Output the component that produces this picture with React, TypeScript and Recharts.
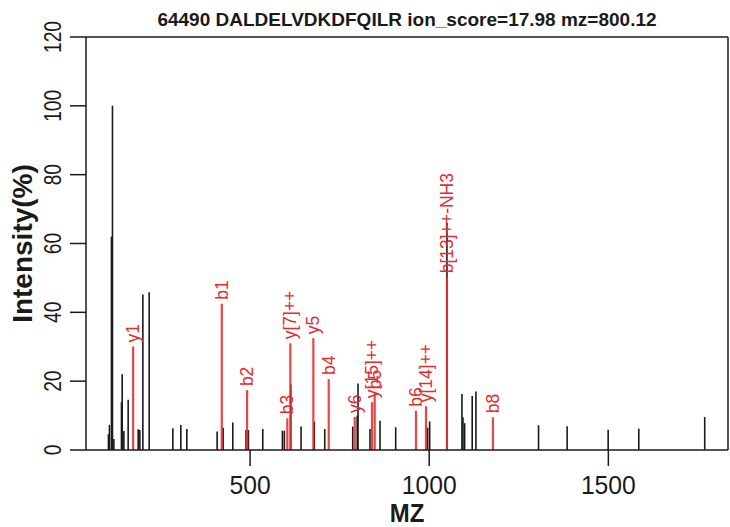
import { ComposedChart, XAxis, YAxis, Scatter, ReferenceLine } from 'recharts'

const title = '64490 DALDELVDKDFQILR ion_score=17.98 mz=800.12'

// unmatched peaks (black)
const peakMz = [
	104.7, 107.5, 113.1, 115.9, 119.8, 141, 143, 147.7, 159.7, 187.6, 192.3, 200.7, 218.3, 284.4, 306.7, 323.4, 408,
	424.7, 451.7, 488.8, 495.3, 535.4, 590.2, 595.7, 613.5, 642.3, 679.4, 708.4, 786.5, 799, 801.3, 834.7, 862.6,
	906.4, 995.6, 1001.3, 1049.5, 1091.4, 1094.2, 1098.9, 1120, 1130.4, 1305.2, 1385, 1499.5, 1585, 1769,
]
const peakIntensity = [
	4.6, 7.3, 62, 100, 3.2, 13.9, 22, 5.5, 14.6, 6, 5.8, 45.2, 45.8, 6.3, 7.3, 6.1, 5.4, 6.4, 8, 5.8, 5.8, 6.1, 5.6,
	5.6, 19, 6.8, 8.2, 6.1, 6.8, 10, 19.3, 6.1, 8.5, 6.6, 6.5, 8.3, 66, 16.3, 9.5, 7.8, 15.7, 17, 7.2, 6.9, 5.9, 6.2,
	9.6,
]

// matched fragment ions (red)
const ionNames = ['y1', 'b1', 'b2', 'b3', 'y[7]++', 'y5', 'b4', 'y6', 'y[15]++', 'b5', 'b6', 'y[14]++', 'b[13]++-NH3', 'b8']
const ionMz = [173.6, 421, 491.6, 604, 612.4, 676.6, 719.5, 792.1, 840.3, 847.8, 963, 991, 1049.5, 1177.8]
const ionIntensity = [30.1, 42.5, 17.4, 9.2, 31, 32.5, 20.6, 9.6, 13.9, 16.5, 11.4, 12.7, 50.2, 9.5]

const xTicks = [500, 1000, 1500]
const yTicks = [0, 20, 40, 60, 80, 100, 120]

const peaks = peakMz.map((mz, i) => ({ mz, intensity: peakIntensity[i] }))
const ions = ionMz.map((mz, i) => ({ mz, intensity: ionIntensity[i], name: ionNames[i] }))

const FONT = '"Liberation Sans", Arial, sans-serif'
const RED = '#e52b2b'
const INK = '#1a1a1a'

const XTick = (props: any) => {
	const { x, y, payload } = props
	return (
		<text transform={`translate(${x},${y + 26}) scale(0.95,1)`} textAnchor="middle" fontFamily={FONT} fontSize={26} fill={INK}>
			{payload.value}
		</text>
	)
}

const YTick = (props: any) => {
	const { x, y, payload } = props
	return (
		<text
			transform={`translate(${x - 15.5},${y}) rotate(-90) scale(0.8,1)`}
			textAnchor="middle"
			dominantBaseline="central"
			fontFamily={FONT}
			fontSize={24}
			fill={INK}
		>
			{payload.value}
		</text>
	)
}

const IonLabel = (props: any) => {
	const { cx, cy, payload } = props
	return (
		<text
			transform={`translate(${cx},${cy - 4}) rotate(-90)`}
			dominantBaseline="central"
			fontFamily={FONT}
			fontSize={17.5}
			fill={RED}
		>
			{payload.name}
		</text>
	)
}

const App = () => {
	return (
		<div style={{ position: 'absolute', left: 0, top: 0 }}>
			<ComposedChart width={730} height={527} margin={{ top: 37, right: 2, bottom: 0, left: 0 }}>
				<XAxis
					dataKey="mz"
					type="number"
					domain={[42, 1834]}
					ticks={xTicks}
					height={77}
					tickSize={16}
					tick={<XTick />}
					axisLine={{ stroke: INK, strokeWidth: 1.5 }}
					tickLine={{ stroke: INK, strokeWidth: 1.5 }}
					label={{
						content: (p: any) => (
							<text
								transform={`translate(${p.viewBox.x + p.viewBox.width / 2},522) scale(0.92,1)`}
								textAnchor="middle"
								fontFamily={FONT}
								fontWeight="bold"
								fontSize={26}
								fill={INK}
							>
								MZ
							</text>
						),
					}}
				/>
				<YAxis
					type="number"
					domain={[0, 120]}
					ticks={yTicks}
					width={86}
					tickSize={16}
					tick={<YTick />}
					axisLine={{ stroke: INK, strokeWidth: 1.5 }}
					tickLine={{ stroke: INK, strokeWidth: 1.5 }}
					label={{
						content: (p: any) => (
							<text
								transform={`translate(22,${p.viewBox.y + p.viewBox.height / 2}) rotate(-90)`}
								textAnchor="middle"
								dominantBaseline="central"
								fontFamily={FONT}
								fontWeight="bold"
								fontSize={28}
								fill={INK}
							>
								Intensity(%)
							</text>
						),
					}}
				/>

				{/* box: top and right edges, title sits on the top edge */}
				<ReferenceLine
					y={120}
					stroke={INK}
					strokeWidth={1.5}
					label={{
						content: (p: any) => (
							<text
								x={p.viewBox.x + p.viewBox.width / 2}
								y={p.viewBox.y - 11}
								textAnchor="middle"
								fontFamily={FONT}
								fontWeight="bold"
								fontSize={19}
								fill={INK}
							>
								{title}
							</text>
						),
					}}
				/>
				<ReferenceLine x={1834} stroke={INK} strokeWidth={1.5} />

				{peaks.map((p, i) => (
					<ReferenceLine
						key={`peak-${i}`}
						segment={[
							{ x: p.mz, y: 0 },
							{ x: p.mz, y: p.intensity },
						]}
						stroke={INK}
						strokeWidth={1.6}
					/>
				))}
				{ions.map((p, i) => (
					<ReferenceLine
						key={`ion-${i}`}
						segment={[
							{ x: p.mz, y: 0 },
							{ x: p.mz, y: p.intensity },
						]}
						stroke={RED}
						strokeOpacity={0.88}
						strokeWidth={2.2}
					/>
				))}

				<Scatter data={peaks} dataKey="intensity" shape={() => <g />} isAnimationActive={false} />
				<Scatter data={ions} dataKey="intensity" shape={<IonLabel />} isAnimationActive={false} />
			</ComposedChart>
		</div>
	)
}

export default App
